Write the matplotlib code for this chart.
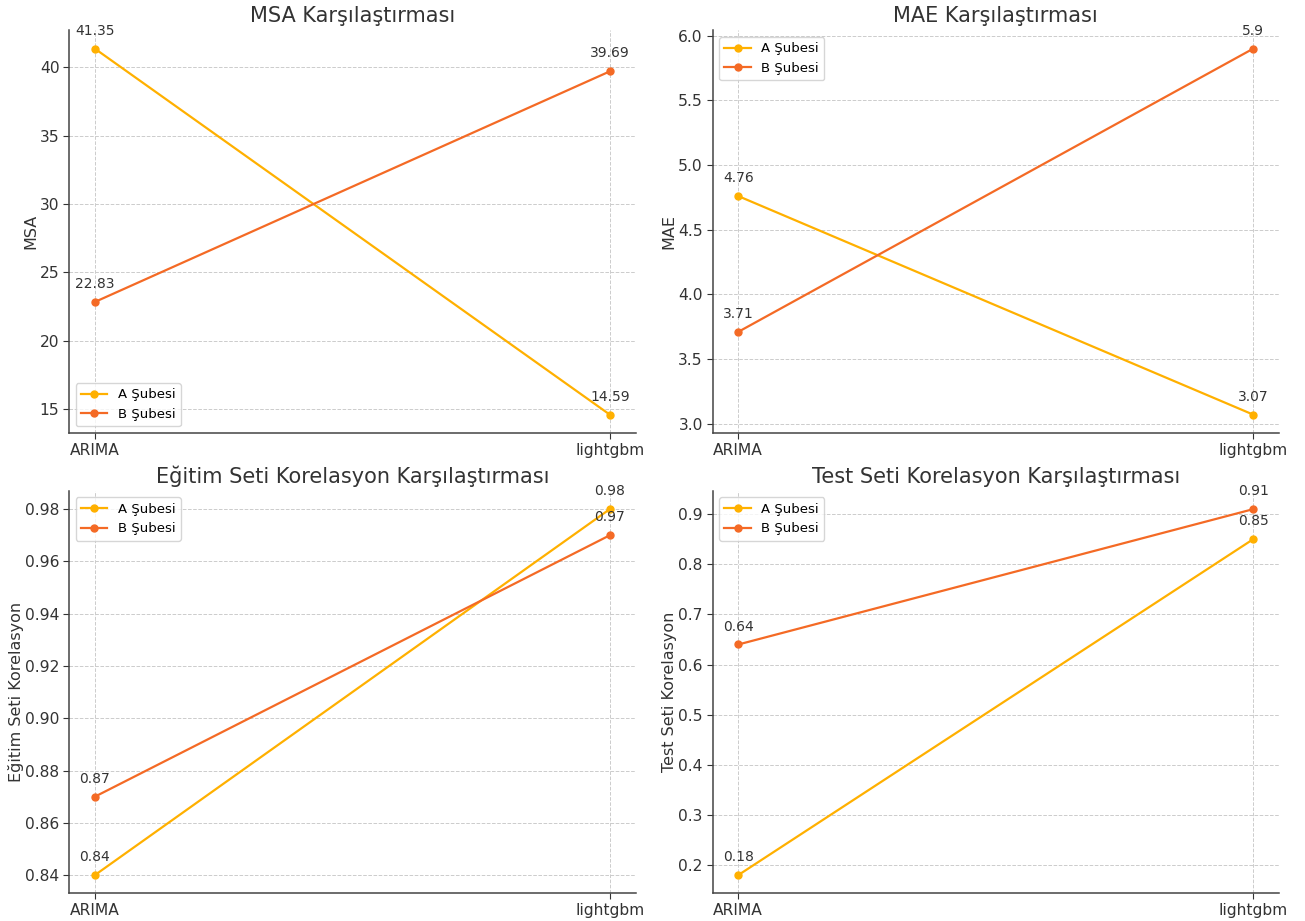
import matplotlib.pyplot as plt

models = ['ARIMA', 'lightgbm']
branches = ['A Şubesi', 'B Şubesi']
colors = ['#FFB000', '#F46A25']

msa_a = [41.35, 14.59]
msa_b = [22.83, 39.69]
mae_a = [4.76, 3.07]
mae_b = [3.71, 5.9]
train_a = [0.84, 0.98]
train_b = [0.87, 0.97]
test_a = [0.18, 0.85]
test_b = [0.64, 0.91]

panels = [
    ('MSA Karşılaştırması', 'MSA', msa_a, msa_b, 'lower left'),
    ('MAE Karşılaştırması', 'MAE', mae_a, mae_b, 'upper left'),
    ('Eğitim Seti Korelasyon Karşılaştırması', 'Eğitim Seti Korelasyon', train_a, train_b, 'upper left'),
    ('Test Seti Korelasyon Karşılaştırması', 'Test Seti Korelasyon', test_a, test_b, 'upper left'),
]

fig, axes = plt.subplots(2, 2, figsize=(13.05, 9.21), dpi=100)

for ax, (title, ylabel, a, b, loc) in zip(axes.flat, panels):
    for vals, name, c in zip([a, b], branches, colors):
        ax.plot(models, vals, marker='o', color=c, label=name, linewidth=1.6, markersize=5)
        for x, v in zip(models, vals):
            ax.annotate(str(v), (x, v), textcoords='offset points', xytext=(0, 10),
                        ha='center', fontsize=10, color='#333333')
    ax.set_title(title, fontsize=15, color='#333333')
    ax.set_ylabel(ylabel, fontsize=11.5, color='#333333', labelpad=1)
    ax.grid(True, linestyle='--', color='#cccccc', linewidth=0.7)
    ax.spines['top'].set_visible(False)
    ax.spines['right'].set_visible(False)
    for s in ['left', 'bottom']:
        ax.spines[s].set_linewidth(1.1)
        ax.spines[s].set_color('#444444')
    ax.tick_params(labelsize=11.2, colors='#333333', length=4, pad=3)
    ax.legend(loc=loc, fontsize=9.5)

plt.subplots_adjust(left=0.053, right=0.980, top=0.967, bottom=0.030,
                    wspace=0.136, hspace=0.144)
plt.savefig('out.png')
